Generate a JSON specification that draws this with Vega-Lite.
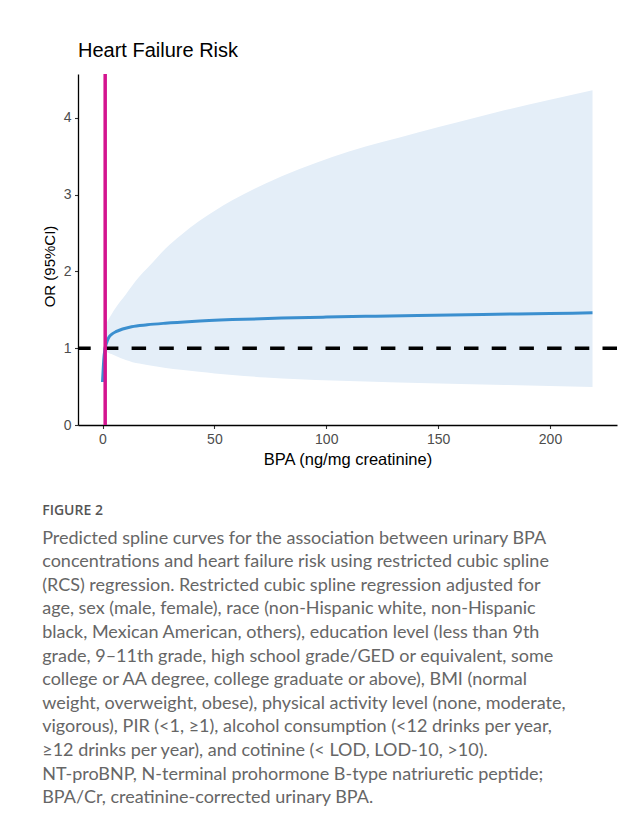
{
  "$schema": "https://vega.github.io/schema/vega-lite/v6.json",
  "background": "white",
  "padding": {"left": 42, "top": 41, "right": 10, "bottom": 10},
  "title": {
    "text": "FIGURE 2",
    "subtitle": [
      "Predicted spline curves for the association between urinary BPA",
      "concentrations and heart failure risk using restricted cubic spline",
      "(RCS) regression. Restricted cubic spline regression adjusted for",
      "age, sex (male, female), race (non-Hispanic white, non-Hispanic",
      "black, Mexican American, others), education level (less than 9th",
      "grade, 9–11th grade, high school grade/GED or equivalent, some",
      "college or AA degree, college graduate or above), BMI (normal",
      "weight, overweight, obese), physical activity level (none, moderate,",
      "vigorous), PIR (<1, ≥1), alcohol consumption (<12 drinks per year,",
      "≥12 drinks per year), and cotinine (< LOD, LOD-10, >10).",
      "NT-proBNP, N-terminal prohormone B-type natriuretic peptide;",
      "BPA/Cr, creatinine-corrected urinary BPA."
    ],
    "orient": "bottom",
    "anchor": "start",
    "frame": "bounds",
    "offset": 36,
    "font": "Open Sans",
    "fontSize": 14,
    "fontWeight": 600,
    "color": "#555555",
    "subtitleFont": "Lato",
    "subtitleFontSize": 18,
    "subtitleColor": "#666666",
    "subtitleLineHeight": 23.6,
    "subtitlePadding": 12
  },
  "datasets": {
    "curve": [
      {"x": 0, "or": 0.56}, {"x": 0.3, "or": 0.72}, {"x": 0.6, "or": 0.86},
      {"x": 1.0, "or": 0.97}, {"x": 1.5, "or": 1.04}, {"x": 2.2, "or": 1.1},
      {"x": 3, "or": 1.15}, {"x": 4.5, "or": 1.19}, {"x": 6, "or": 1.215},
      {"x": 9, "or": 1.25}, {"x": 13, "or": 1.28}, {"x": 20, "or": 1.305},
      {"x": 28, "or": 1.325}, {"x": 40, "or": 1.348}, {"x": 58, "or": 1.372},
      {"x": 80, "or": 1.392}, {"x": 100, "or": 1.405}, {"x": 120, "or": 1.416},
      {"x": 141, "or": 1.427}, {"x": 170, "or": 1.44}, {"x": 200, "or": 1.452},
      {"x": 219, "or": 1.46}
    ],
    "band": [
      {"x": 1.3, "lo": 0.97, "hi": 1.22}, {"x": 2, "lo": 0.95, "hi": 1.33},
      {"x": 3, "lo": 0.935, "hi": 1.39}, {"x": 4, "lo": 0.925, "hi": 1.44},
      {"x": 6, "lo": 0.9, "hi": 1.53}, {"x": 8, "lo": 0.872, "hi": 1.61},
      {"x": 10.4, "lo": 0.845, "hi": 1.7}, {"x": 13.4, "lo": 0.818, "hi": 1.82},
      {"x": 16.4, "lo": 0.8, "hi": 1.93}, {"x": 20, "lo": 0.78, "hi": 2.04},
      {"x": 28.3, "lo": 0.743, "hi": 2.3}, {"x": 35, "lo": 0.718, "hi": 2.47},
      {"x": 43.2, "lo": 0.692, "hi": 2.655}, {"x": 50.2, "lo": 0.672, "hi": 2.79},
      {"x": 58, "lo": 0.652, "hi": 2.925}, {"x": 72.9, "lo": 0.619, "hi": 3.145},
      {"x": 87.8, "lo": 0.595, "hi": 3.33}, {"x": 102.7, "lo": 0.578, "hi": 3.49},
      {"x": 117.6, "lo": 0.565, "hi": 3.625}, {"x": 132.4, "lo": 0.553, "hi": 3.74},
      {"x": 141.4, "lo": 0.547, "hi": 3.81}, {"x": 160, "lo": 0.535, "hi": 3.95},
      {"x": 180, "lo": 0.522, "hi": 4.1}, {"x": 200, "lo": 0.508, "hi": 4.235},
      {"x": 219, "lo": 0.495, "hi": 4.36}
    ]
  },
  "vconcat": [
    {
      "width": 539,
      "height": 351,
      "title": {
        "text": "Heart Failure Risk",
        "anchor": "start",
        "frame": "group",
        "offset": 11,
        "font": "Liberation Sans",
        "fontSize": 20,
        "fontWeight": "normal",
        "color": "#000000"
      },
      "layer": [
        {
          "data": {"name": "band"},
          "mark": {"type": "area", "color": "#e4eef8", "opacity": 1, "interpolate": "monotone"},
          "encoding": {
            "x": {"field": "x", "type": "quantitative"},
            "y": {"field": "lo", "type": "quantitative"},
            "y2": {"field": "hi"}
          }
        },
        {
          "data": {"name": "curve"},
          "mark": {"type": "line", "color": "#3b8fcf", "strokeWidth": 3, "interpolate": "monotone"},
          "encoding": {
            "x": {"field": "x", "type": "quantitative"},
            "y": {"field": "or", "type": "quantitative"}
          }
        },
        {
          "data": {"values": [{"ref": 1}]},
          "mark": {"type": "rule", "color": "#000000", "strokeWidth": 3.5, "strokeDash": [14.5, 13.2]},
          "encoding": {"y": {"field": "ref", "type": "quantitative"}}
        },
        {
          "data": {"values": [{"knot": 1.2}]},
          "mark": {"type": "rule", "color": "#d4148f", "strokeWidth": 3.5},
          "encoding": {"x": {"field": "knot", "type": "quantitative"}}
        }
      ],
      "encoding": {
        "x": {
          "scale": {"domain": [-10.95, 229.95], "nice": false, "zero": false},
          "axis": {"title": "BPA (ng/mg creatinine)", "values": [0, 50, 100, 150, 200], "titleFontSize": 16.5, "titlePadding": 5}
        },
        "y": {
          "scale": {"domain": [0, 4.57], "nice": false, "zero": false},
          "axis": {"title": "OR (95%CI)", "values": [0, 1, 2, 3, 4], "titleFontSize": 15, "titlePadding": 6, "titleY": 192}
        }
      }
    }
  ],
  "config": {
    "view": {"stroke": null},
    "axis": {
      "grid": false,
      "domainColor": "#000000",
      "domainWidth": 1.3,
      "tickColor": "#333333",
      "tickWidth": 1.1,
      "tickSize": 3.5,
      "labelFont": "Liberation Sans",
      "labelFontSize": 14,
      "labelColor": "#4d4d4d",
      "labelPadding": 3.5,
      "titleFont": "Liberation Sans",
      "titleFontWeight": "normal",
      "titleColor": "#000000"
    }
  }
}
